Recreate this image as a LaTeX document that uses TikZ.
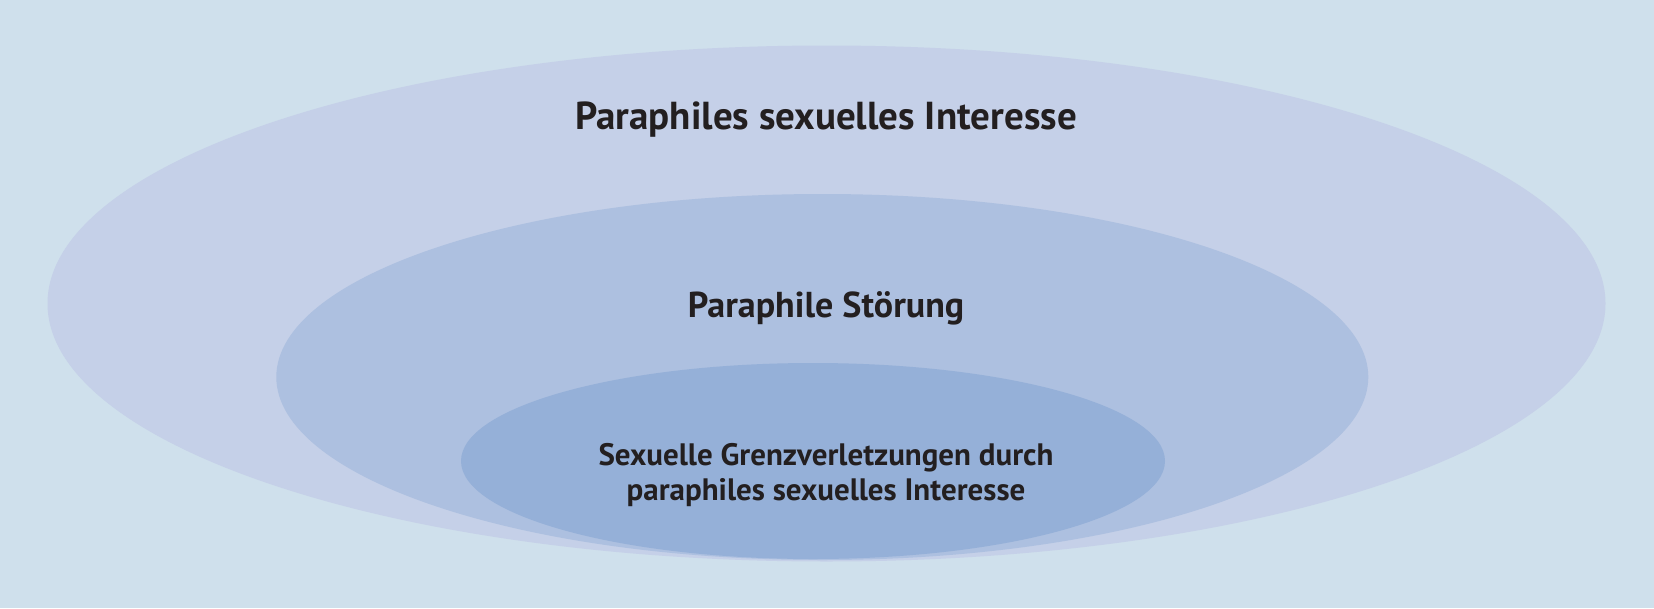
\documentclass[tikz,border=0pt]{standalone}
\usepackage{fontspec}
\setmainfont{PT Sans}
\definecolor{bgc}{HTML}{CFE0EC}
\definecolor{outerc}{HTML}{C5D0E8}
\definecolor{midc}{HTML}{ADC0E0}
\definecolor{innerc}{HTML}{95B0D8}
\definecolor{txtc}{HTML}{231F20}
\begin{document}
\begin{tikzpicture}[x=1pt,y=-1pt,
  lbl/.style={text=txtc,font=\bfseries,inner sep=0pt,align=center}]
\fill[bgc] (0,0) rectangle (1654,608);
\useasboundingbox (0,0) rectangle (1654,608);
\fill[outerc] (826.5,303.5) ellipse [x radius=779, y radius=258];
\fill[midc] (822.3,377) ellipse [x radius=546, y radius=183];
\fill[innerc] (813,461) ellipse [x radius=352, y radius=98];
\node[lbl,font=\fontsize{39}{44}\selectfont\bfseries] (t1) at (826,120) {Paraphiles sexuelles Interesse};
\node[lbl,font=\fontsize{36}{40}\selectfont\bfseries] (t2) at (826,308) {Paraphile Störung};
\node[lbl,font=\fontsize{31}{35}\selectfont\bfseries] (t3) at (826,475) {Sexuelle Grenzverletzungen durch\\paraphiles sexuelles Interesse};
\end{tikzpicture}
\end{document}
